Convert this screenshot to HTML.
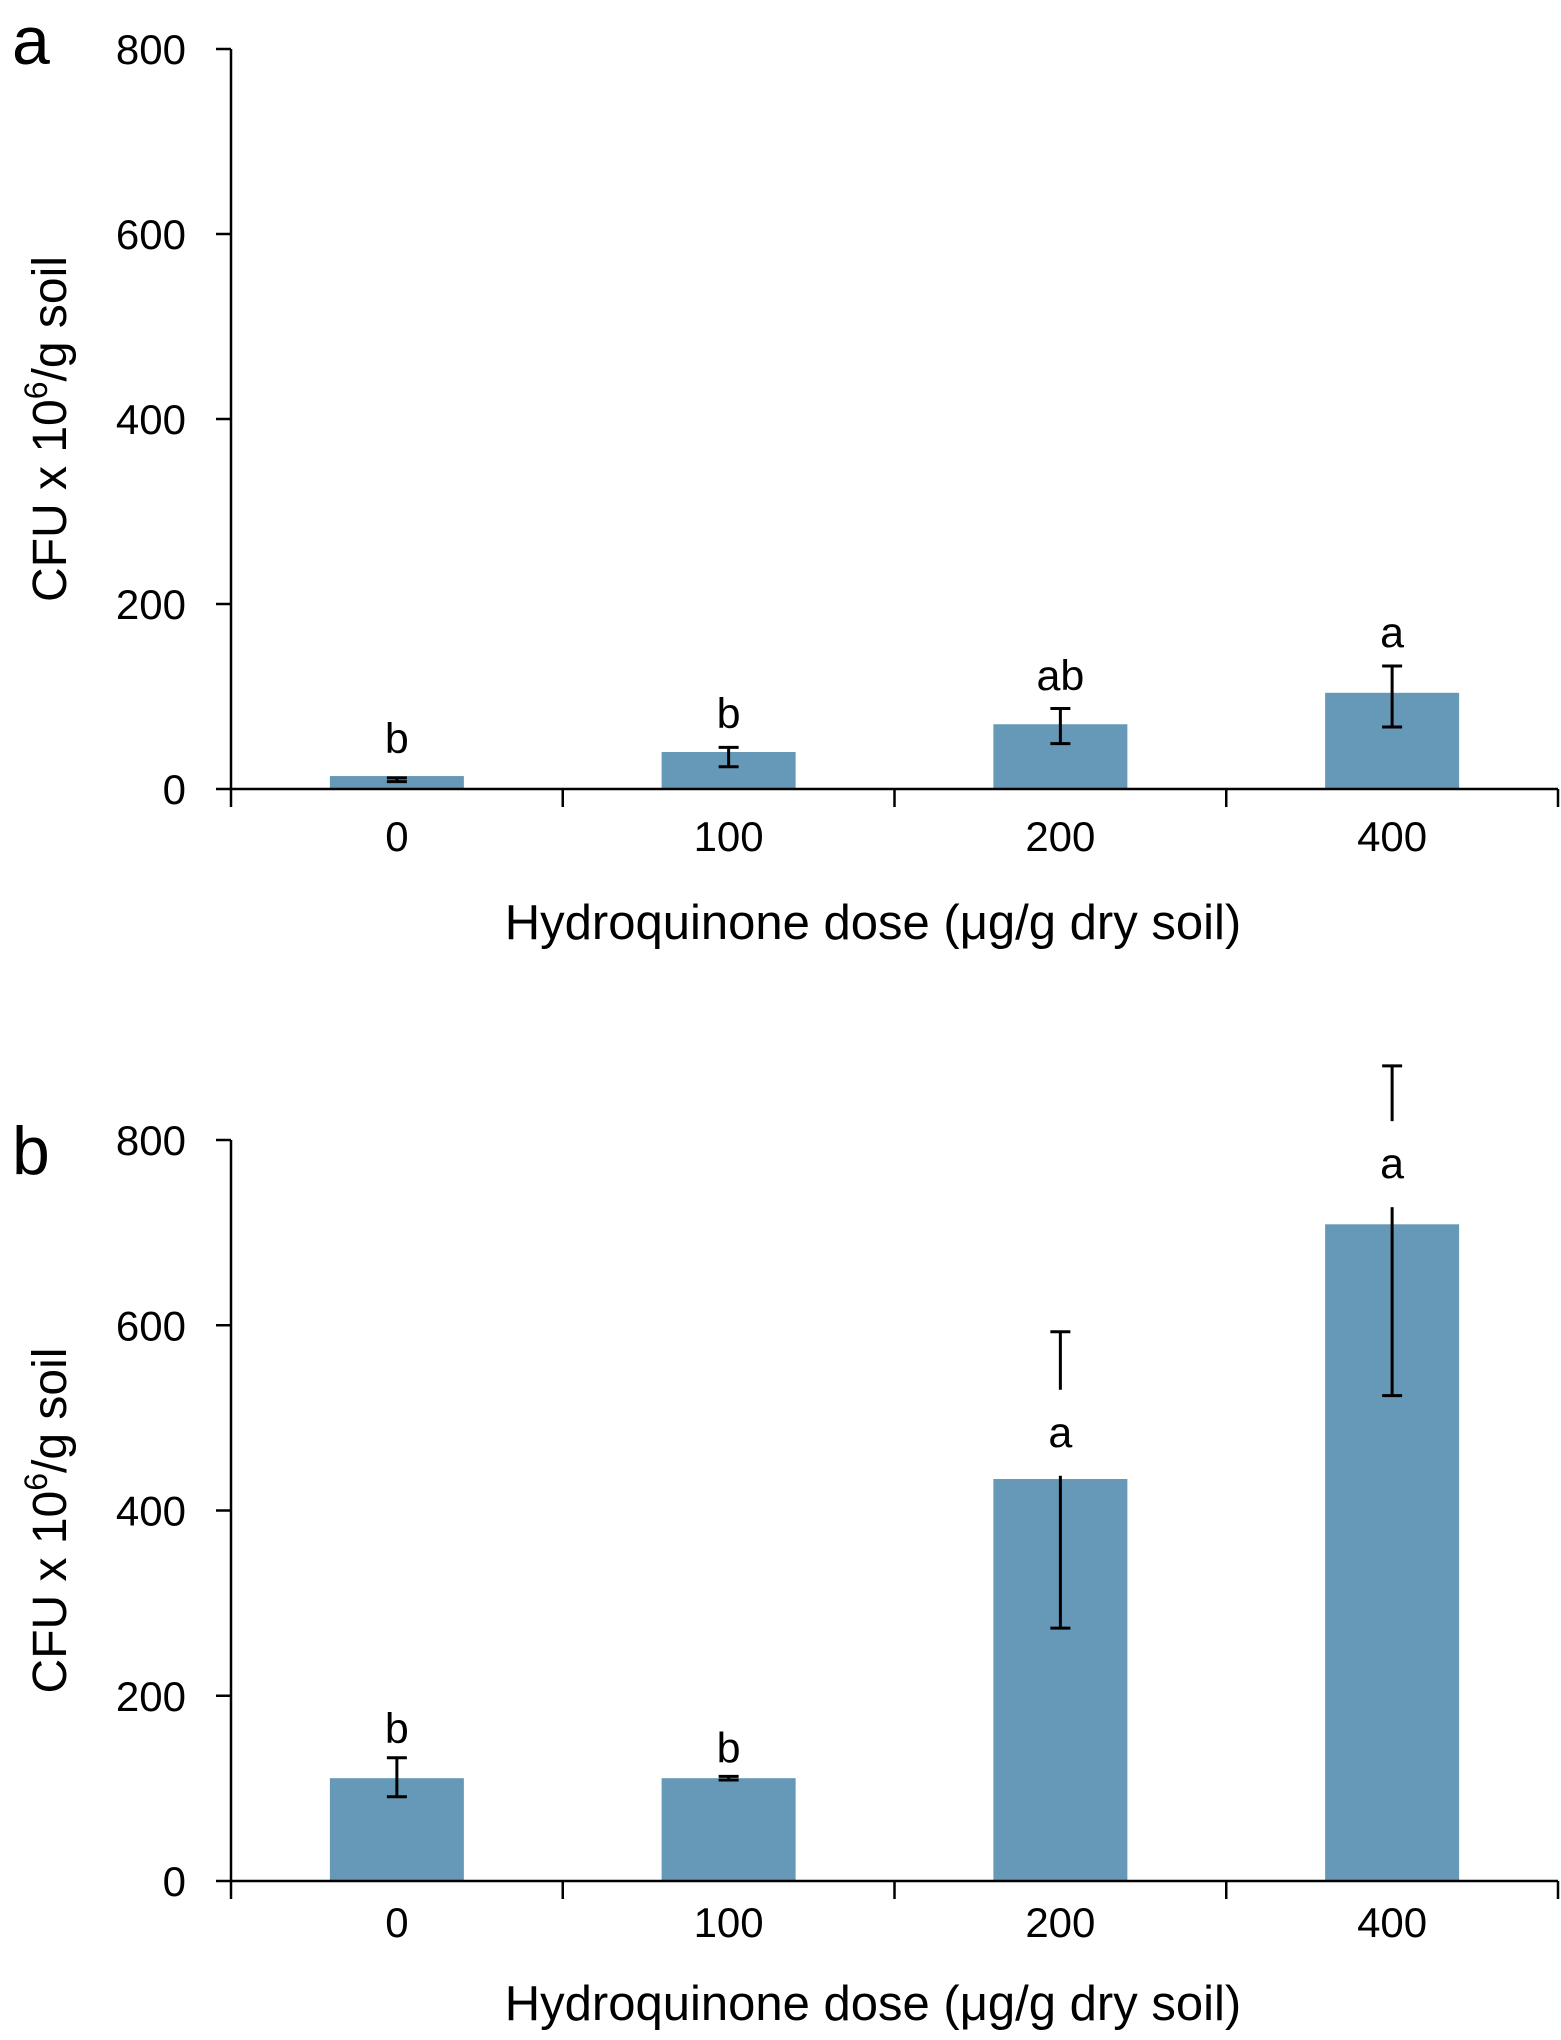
<!DOCTYPE html>
<html><head><meta charset="utf-8"><style>
html,body{margin:0;padding:0;background:#fff;}
svg text{font-family:"Liberation Sans",Arial,sans-serif;fill:#000;}
</style></head><body>
<svg id="fig" width="1561" height="2035" viewBox="0 0 1561 2035" xmlns="http://www.w3.org/2000/svg"></svg>
<script>
const categories = ["0","100","200","400"];
const yTicks = [0,200,400,600,800];
const valuesA = [14,40,70,104];
const errLowA = [8,24,49,67];
const errHighA = [12,45,87,133];
const letterA = ["b","b","ab","a"];
const letterValA = [55,82,123,170];
const valuesB = [111,111,434,709];
const errLowB = [91,109,273,524];
const errHighB = [133,113,593,880];
const letterB = ["b","b","a","a"];
const letterValB = [165,144,485,775];

const NS="http://www.w3.org/2000/svg";
const svg=document.getElementById('fig');
function mk(tag,attrs,parent){const e=document.createElementNS(NS,tag);for(const k in attrs)e.setAttribute(k,attrs[k]);(parent||svg).appendChild(e);return e;}

function panel(id,top0,y800,vals,lo,hi,letters,letterVals,tag,titleY,xLabY){
  const g=mk('g',{});
  
  
  const x0=231,x1=1558;
  const y=v=>top0-(v/800)*(top0-y800);
  const bw=(x1-x0)/categories.length;
  const cx=i=>x0+bw*(i+0.5);
  vals.forEach((v,i)=>{
    const r=mk('rect',{x:cx(i)-67,y:y(v),width:134,height:top0-y(v),fill:'#6699b7'},g);
    
    
  });
  vals.forEach((v,i)=>{
    const e=mk('g',{stroke:'#000','stroke-width':3},g);
    
    
    mk('line',{x1:cx(i),x2:cx(i),y1:y(lo[i]),y2:y(hi[i])},e);
    mk('line',{x1:cx(i)-10,x2:cx(i)+10,y1:y(lo[i]),y2:y(lo[i])},e);
    mk('line',{x1:cx(i)-10,x2:cx(i)+10,y1:y(hi[i]),y2:y(hi[i])},e);
  });
  letters.forEach((l,i)=>{
    const yy=y(letterVals[i]);
    if(letterVals[i]<hi[i]&&letterVals[i]>vals[i]){
      const bg=mk('rect',{x:cx(i)-20,y:yy-42,width:40,height:86,fill:'#fff'},g);
      
      
    }
    const t=mk('text',{x:cx(i),y:yy+15,'font-size':43,'text-anchor':'middle'},g);
    t.textContent=l;
    
    
  });
  const ax=mk('g',{stroke:'#000','stroke-width':2.5},g);
  
  
  mk('line',{x1:x0,x2:x0,y1:y800,y2:top0+1},ax);
  mk('line',{x1:x0-1,x2:x1,y1:top0,y2:top0},ax);
  for(let i=0;i<=categories.length;i++){
    mk('line',{x1:x0+bw*i,x2:x0+bw*i,y1:top0,y2:top0+18},ax);
  }
  yTicks.forEach(v=>{
    mk('line',{x1:x0-15,x2:x0,y1:y(v),y2:y(v)},ax);
    const t=mk('text',{x:186,y:y(v)+15,'font-size':42,'text-anchor':'end'},g);
    t.textContent=v;
    
    
  });
  categories.forEach((c,i)=>{
    const t=mk('text',{x:cx(i),y:xLabY+2,'font-size':42,'text-anchor':'middle'},g);
    t.textContent=c;
    
    
  });
  const xt=mk('text',{x:873,y:titleY+2,'font-size':49,'text-anchor':'middle'},g);
  xt.textContent='Hydroquinone dose (\u03bcg/g dry soil)';
  
  
  const ymid=(y800+top0)/2+10;
  const yt=mk('text',{x:0,y:0,'font-size':48,'text-anchor':'middle',transform:'translate(66,'+ymid+') rotate(-90)'},g);
  yt.innerHTML='CFU x 10<tspan font-size="32" dy="-19">6</tspan><tspan dy="19">/g soil</tspan>';
  
  
  const pl=mk('text',{x:12,y:tag==='a'?64:1174,'font-size':68},g);
  pl.textContent=tag;
  
  
}
panel('a',789,49,valuesA,errLowA,errHighA,letterA,letterValA,'a',937,849);
panel('b',1881,1140,valuesB,errLowB,errHighB,letterB,letterValB,'b',2018,1935);
</script>
</body></html>
